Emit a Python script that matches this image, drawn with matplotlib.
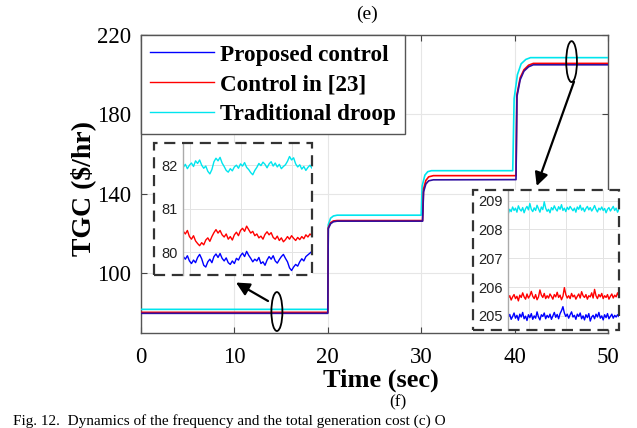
import numpy as np
import matplotlib
matplotlib.use("Agg")
import matplotlib.pyplot as plt
from matplotlib.patches import Ellipse, Rectangle
from matplotlib.lines import Line2D

# ---------------- data ----------------
labels = ["Proposed control", "Control in [23]", "Traditional droop"]
colors = ["#0000ff", "#ff0000", "#00e5ee"]

t_blue = [0, 20.0, 20.05, 20.3, 20.6, 21.0, 30.15, 30.25, 30.5, 30.8, 31.3,
          40.15, 40.25, 40.6, 41.0, 41.5, 42.0, 50]
v_blue = [79.9, 79.9, 122.5, 125.0, 126.0, 126.3, 126.3, 141.0, 145.0, 146.6, 147.1,
          147.2, 189.0, 197.5, 201.8, 204.0, 205.0, 205.0]
t_red = [0, 20.0, 20.05, 20.3, 20.6, 21.0, 30.15, 30.25, 30.5, 30.8, 31.3,
         40.15, 40.25, 40.6, 41.0, 41.5, 42.0, 50]
v_red = [80.4, 80.4, 123.0, 125.5, 126.4, 126.6, 126.6, 142.5, 146.8, 148.6, 149.2,
         149.2, 190.0, 198.5, 202.5, 204.8, 205.7, 205.7]
t_cyan = [0, 20.0, 20.05, 20.3, 20.6, 21.0, 30.0, 30.1, 30.4, 30.7, 31.1,
          39.8, 39.95, 40.3, 40.7, 41.2, 41.7, 50]
v_cyan = [81.9, 81.9, 124.5, 127.8, 128.9, 129.3, 129.3, 144.0, 149.5, 151.2, 151.7,
          151.7, 188.0, 200.0, 205.5, 207.7, 208.6, 208.6]

x_ticks = [0, 10, 20, 30, 40, 50]
y_ticks = [100, 140, 180, 220]

# left inset (t = 5 .. 15 s)
cyan_L = [81.95, 82.02, 81.92, 82.00, 82.05, 81.97, 82.10, 82.04, 82.12, 82.00, 81.93, 81.98,
          81.86, 81.80, 81.90, 82.08, 82.16, 82.10, 82.18, 82.05, 81.97, 81.88, 81.84, 81.92,
          81.87, 81.96, 82.00, 81.93, 82.03, 81.98, 82.06, 81.95, 81.90, 81.83, 81.78, 81.88,
          81.95, 82.04, 81.99, 82.07, 82.02, 81.94, 82.03, 82.08, 81.98, 82.05, 81.96, 82.02,
          81.92, 81.97, 82.01, 82.09, 82.20, 82.12, 82.17, 82.03, 81.96, 82.01, 81.91, 81.97,
          81.88, 81.95, 82.00, 81.93]
red_L = [80.48, 80.42, 80.50, 80.36, 80.30, 80.38, 80.26, 80.20, 80.15, 80.22, 80.17, 80.28,
         80.33, 80.25, 80.36, 80.45, 80.52, 80.44, 80.50, 80.40, 80.35, 80.42, 80.30, 80.36,
         80.28, 80.40, 80.46, 80.38, 80.50, 80.55, 80.48, 80.60, 80.52, 80.44, 80.48, 80.38,
         80.42, 80.33, 80.37, 80.30, 80.41, 80.47, 80.40, 80.45, 80.34, 80.30, 80.37, 80.27,
         80.33, 80.24, 80.29, 80.36, 80.30, 80.38, 80.32, 80.27, 80.34, 80.29, 80.36, 80.31,
         80.40, 80.35, 80.42, 80.38]
blue_L = [79.90, 79.84, 79.92, 79.80, 79.74, 79.82, 79.76, 79.88, 79.95, 79.85, 79.70, 79.66,
          79.78, 79.84, 79.76, 79.90, 79.96, 79.88, 79.97, 79.86, 79.80, 79.87, 79.76, 79.72,
          79.80, 79.74, 79.86, 79.82, 79.92, 79.98, 79.90, 80.02, 79.93, 79.86, 79.78, 79.84,
          79.80, 79.88, 79.74, 79.78, 79.70, 79.82, 79.90, 79.84, 79.92, 79.80, 79.75, 79.83,
          79.90, 79.95, 79.86, 79.78, 79.64, 79.58, 79.66, 79.72, 79.68, 79.78, 79.85, 79.80,
          79.90, 79.94, 79.98, 80.02]
yticks_L = [80, 81, 82]

# right inset (t = 42 .. 50 s)
cyan_R = [208.55, 208.70, 208.62, 208.78, 208.66, 208.74, 208.60, 208.82, 208.70, 208.64,
          208.76, 208.58, 208.72, 208.80, 208.68, 208.90, 208.70, 208.62, 208.75, 208.66,
          208.84, 208.72, 208.60, 208.78, 208.69, 208.96, 208.74, 208.63, 208.70, 208.58,
          208.76, 208.68, 208.82, 208.71, 208.64, 208.79, 208.70, 208.86, 208.66, 208.74,
          208.62, 208.77, 208.69, 208.80, 208.72, 208.65, 208.74, 208.60, 208.78, 208.70,
          208.84, 208.67, 208.75, 208.62, 208.73, 208.80, 208.68, 208.76, 208.64, 208.72,
          208.83, 208.70, 208.61, 208.74, 208.68, 208.78, 208.66, 208.73, 208.58, 208.70,
          208.76, 208.64, 208.72, 208.80, 208.66, 208.74, 208.60, 208.70]
red_R = [205.62, 205.70, 205.55, 205.66, 205.74, 205.60, 205.68, 205.52, 205.72, 205.64,
         205.80, 205.66, 205.58, 205.76, 205.62, 205.70, 205.85, 205.68, 205.60, 205.74,
         205.56, 205.66, 205.90, 205.72, 205.64, 205.78, 205.60, 205.70, 205.62, 205.76,
         205.68, 205.58, 205.74, 205.66, 205.82, 205.64, 205.72, 205.56, 205.68, 205.98,
         205.74, 205.62, 205.70, 205.60, 205.78, 205.66, 205.72, 205.58, 205.68, 205.76,
         205.62, 205.84, 205.70, 205.64, 205.74, 205.58, 205.70, 205.66, 205.80, 205.62,
         205.92, 205.70, 205.60, 205.74, 205.66, 205.78, 205.60, 205.70, 205.64, 205.74,
         205.58, 205.68, 205.76, 205.62, 205.72, 205.66, 205.80, 205.68]
blue_R = [204.95, 205.05, 204.88, 204.98, 205.10, 204.92, 205.02, 204.85, 205.06, 204.96,
          205.12, 204.90, 204.99, 204.84, 205.04, 204.94, 205.08, 204.88, 205.00, 204.92,
          205.14, 204.96, 204.86, 205.04, 204.98, 205.10, 204.90, 205.02, 204.94, 205.06,
          204.88, 205.00, 205.12, 204.95, 205.05, 204.90, 205.08, 205.18, 205.32, 205.10,
          204.98, 205.06, 204.92, 205.04, 205.14, 204.96, 205.02, 204.88, 205.06, 204.98,
          205.10, 204.90, 205.00, 204.86, 205.04, 204.94, 205.08, 204.82, 204.96, 205.02,
          204.90, 205.06, 204.96, 205.12, 204.92, 205.00, 204.86, 205.04, 204.94, 205.08,
          204.90, 204.98, 205.06, 204.92, 205.02, 204.96, 205.04, 204.98]
yticks_R = [205, 206, 207, 208, 209]

caption = "Fig. 12.  Dynamics of the frequency and the total generation cost (c) O"

# ---------------- figure ----------------
W, H = 637, 428
fig = plt.figure(figsize=(W / 100, H / 100), dpi=100)
SERIF = ["Liberation Serif", "DejaVu Serif"]
SANS = ["Liberation Sans", "DejaVu Sans"]


def frect(x0, y0, x1, y1):
    return [x0 / W, 1 - y1 / H, (x1 - x0) / W, (y1 - y0) / H]


ax = fig.add_axes(frect(141, 35, 608, 333))
ax.set_zorder(0)
ax.plot(t_cyan, v_cyan, color=colors[2], lw=1.2, zorder=3)
ax.plot(t_red, v_red, color=colors[1], lw=1.2, zorder=4)
ax.plot(t_blue, v_blue, color="#3010a0", lw=1.2, zorder=5)

ax.set_xlim(0, 50)
ax.set_ylim(70, 220)
ax.set_xticks(x_ticks)
ax.set_yticks(y_ticks)
ax.grid(True, color="#e6e6e6", lw=0.8)
ax.set_axisbelow(True)
ax.tick_params(direction="in", top=True, right=True, length=4, color="#444444")
ax.tick_params(axis="x", pad=10)
ax.tick_params(axis="y", pad=7)
for lab in ax.get_xticklabels() + ax.get_yticklabels():
    lab.set_fontfamily(SERIF)
    lab.set_fontsize(16.5)
for s in ax.spines.values():
    s.set_color("#555555")
    s.set_linewidth(1.0)

ax.set_xlabel("Time (sec)", fontfamily=SERIF, fontweight="bold", fontsize=19)
ax.xaxis.set_label_coords((381 - 141) / (608 - 141), -(380 - 333) / (333 - 35), transform=ax.transAxes)
ax.xaxis.label.set_va("center")
ax.set_ylabel("TGC ($/hr)", fontfamily=SERIF, fontweight="bold", fontsize=20)
ax.yaxis.set_label_coords(-(141 - 83) / (608 - 141), 1 - (189 - 35) / (333 - 35))
ax.yaxis.label.set_va("center")

# legend
handles = [Line2D([], [], color=c, lw=1.0) for c in colors]
leg = ax.legend(handles, labels, loc="upper left", bbox_to_anchor=(0, 1), borderaxespad=0,
                prop={"family": SERIF, "weight": "bold", "size": 16.7},
                frameon=True, fancybox=False, edgecolor="#555555", framealpha=1,
                handlelength=2.75, handletextpad=0.25, labelspacing=0.36, borderpad=0.4)
leg.get_frame().set_linewidth(1.0)

# annotations (ellipses + arrows)
ax.add_patch(Ellipse((14.55, 80.8), 1.18, 19.6, fill=False, ec="black", lw=1.3, zorder=6))
ax.add_patch(Ellipse((46.1, 206.6), 1.15, 20.6, fill=False, ec="black", lw=1.3, zorder=6))
ax.annotate("", xy=(10.17, 95.4), xytext=(13.6, 86.1),
            arrowprops=dict(arrowstyle="-|>", lw=1.6, color="black", mutation_scale=20,
                            shrinkA=0, shrinkB=0), annotation_clip=False, zorder=7)
ax.annotate("", xy=(42.37, 144.0), xytext=(46.36, 196.5),
            arrowprops=dict(arrowstyle="-|>", lw=1.6, color="black", mutation_scale=20,
                            shrinkA=0, shrinkB=0), annotation_clip=False, zorder=7)


def make_inset(box, axrect, ylim, yticks, xgrid_frac, series):
    # white background for the whole dashed box
    bg = fig.add_axes(frect(*box))
    bg.set_zorder(1)
    bg.set_facecolor("white")
    bg.set_xticks([])
    bg.set_yticks([])
    for s in bg.spines.values():
        s.set_visible(False)
    ia = fig.add_axes(frect(*axrect))
    ia.set_zorder(2)
    ia.set_facecolor("white")
    for c, vals in series:
        xs = np.linspace(0, 1, len(vals))
        ia.plot(xs, vals, color=c, lw=1.0)
    ia.set_xlim(0, 1)
    ia.set_ylim(*ylim)
    ia.set_yticks(yticks)
    ia.set_xticks(xgrid_frac)
    ia.set_xticklabels([])
    ia.grid(True, color="#e3e3e3", lw=0.7)
    ia.set_axisbelow(True)
    ia.tick_params(length=0, pad=4, labelsize=10.5)
    for lab in ia.get_yticklabels():
        lab.set_fontfamily(SANS)
        lab.set_color("#222222")
    for k in ["top", "right", "bottom"]:
        ia.spines[k].set_visible(False)
    ia.spines["left"].set_color("#aaaaaa")
    ia.spines["left"].set_linewidth(1.0)
    dash = Rectangle((box[0] / W, 1 - box[3] / H), (box[2] - box[0]) / W, (box[3] - box[1]) / H,
                     transform=fig.transFigure, facecolor="none", edgecolor="#333333",
                     lw=1.6, linestyle=(0, (5, 3)), zorder=10)
    fig.add_artist(dash)
    return ia


make_inset((154, 143, 312, 275.3), (183.3, 143, 312, 275.3), (79.47, 82.51), yticks_L,
           [0.05, 0.446, 0.842],
           [(colors[2], cyan_L), (colors[1], red_L), (colors[0], blue_L)])
make_inset((472.7, 190, 619, 330), (508.3, 190, 619, 330), (204.51, 209.37), yticks_R,
           [0.184, 0.522, 0.859],
           [(colors[2], cyan_R), (colors[1], red_R), (colors[0], blue_R)])

# panel labels and caption line (at the bottom edge)
fig.text(367 / W, 1 - 14 / H, "(e)", ha="center", va="center", fontfamily=SERIF, fontsize=14)
fig.text(398 / W, 1 - 402 / H, "(f)", ha="center", va="center", fontfamily=SERIF, fontsize=12.5)
fig.text(13 / W, 1 - 427.5 / H, caption, ha="left", va="bottom", fontfamily=SERIF, fontsize=11)

fig.savefig("out.png", dpi=100)
